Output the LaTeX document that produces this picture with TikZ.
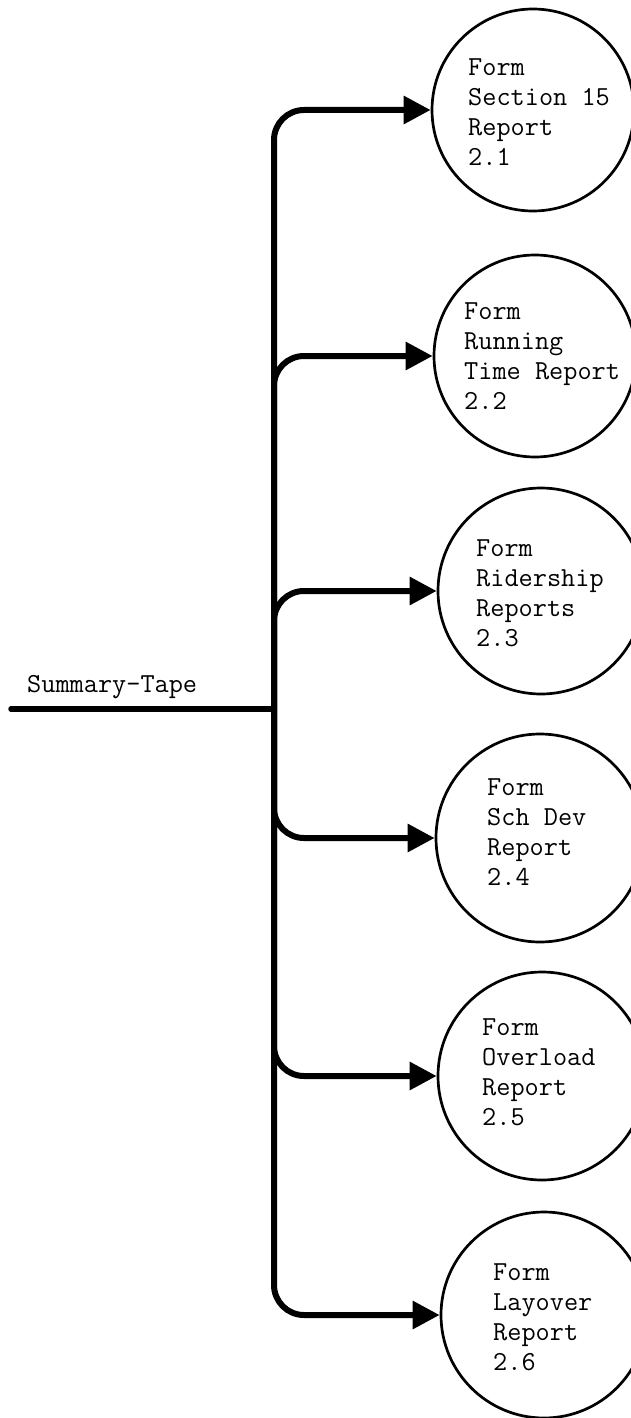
\documentclass[tikz,border=0pt]{standalone}
\usetikzlibrary{arrows.meta}
\begin{document}
\begin{tikzpicture}[x=1pt,y=-1pt,
  proc/.style={circle,draw,line width=2.7pt,inner sep=0pt},
  label/.style={font=\fontsize{27.5}{30}\selectfont\ttfamily,align=left,inner sep=0pt,anchor=west},
  flow/.style={line width=6pt,rounded corners=30pt,-{Triangle[length=27pt,width=27pt]}},
  tape/.style={line width=5.5pt,line cap=round}]
\useasboundingbox (0,0) rectangle (631,1418);

% process bubbles
\node[proc,minimum size=202pt] (c1) at (533,110)  {};
\node[proc,minimum size=202pt] (c2) at (535,356)  {};
\node[proc,minimum size=206pt] (c3) at (541,591)  {};
\node[proc,minimum size=208pt] (c4) at (540,838)  {};
\node[proc,minimum size=208pt] (c5) at (542,1076) {};
\node[proc,minimum size=206pt] (c6) at (544,1315) {};

% bubble captions
\node[label] (t1) at (468,112)  {Form\\Section 15\\Report\\2.1};
\node[label] (t2) at (464,356)  {Form\\Running\\Time Report\\2.2};
\node[label] (t3) at (476,593)  {Form\\Ridership\\Reports\\2.3};
\node[label] (t4) at (487,832)  {Form\\Sch Dev\\Report\\2.4};
\node[label] (t5) at (482,1072) {Form\\Overload\\Report\\2.5};
\node[label] (t6) at (493,1317) {Form\\Layover\\Report\\2.6};

% incoming data store line
\coordinate (tapestart) at (11,709);
\coordinate (junction) at (274,709);
\node[font=\fontsize{27.5}{30}\selectfont\ttfamily,inner sep=0pt,anchor=base west] (tapelabel) at (27,692) {Summary-Tape};
\draw[tape] (tapestart) -- (junction);

% distribution to each report process
\foreach \c in {c1,c2,c3,c4,c5,c6}
  \draw[flow] (junction) |- (\c.west);
\end{tikzpicture}
\end{document}
